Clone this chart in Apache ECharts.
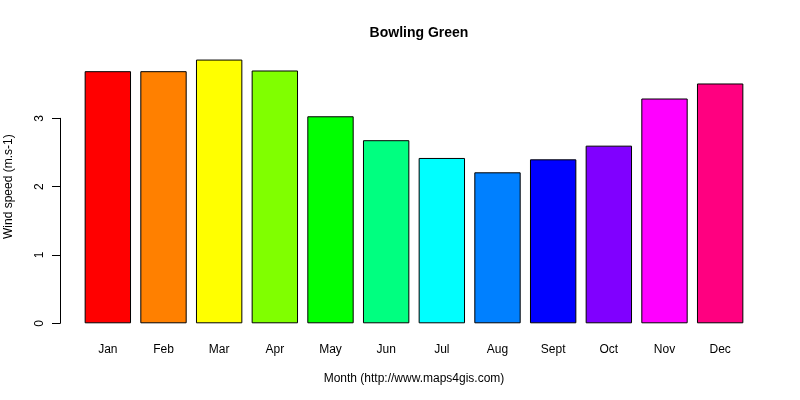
<!DOCTYPE html>
<html>
<head>
<meta charset="utf-8">
<script src="https://cdn.jsdelivr.net/npm/echarts@6/dist/echarts.min.js"></script>
<style>
  html, body { margin: 0; padding: 0; background: #fff; }
  #mainContent { width: 800px; height: 400px; }
</style>
</head>
<body>
<div id="mainContent"></div>
<script>
// data
var months = ['Jan', 'Feb', 'Mar', 'Apr', 'May', 'Jun', 'Jul', 'Aug', 'Sept', 'Oct', 'Nov', 'Dec'];
var windSpeed = [3.69, 3.69, 3.86, 3.70, 3.03, 2.68, 2.42, 2.21, 2.40, 2.60, 3.29, 3.51];
var barColors = ['#FF0000', '#FF8000', '#FFFF00', '#80FF00', '#00FF00', '#00FF80',
                 '#00FFFF', '#0080FF', '#0000FF', '#8000FF', '#FF00FF', '#FF0080'];
var yTicks = [0, 1, 2, 3];

var myChart = echarts.init(document.getElementById('mainContent'));
var font = 'Liberation Sans, Arial, sans-serif';

option = {
    animation: false,
    title: {
        text: 'Bowling Green',
        left: 414,
        top: 21,
        textAlign: 'center',
        textStyle: { fontFamily: font, fontSize: 14, fontWeight: 'bold', color: '#000' }
    },
    grid: [
        { left: 80, right: 52, top: 50, bottom: 76.7, outerBoundsMode: 'none' },
        // second grid only carries the short y axis line (0..3), like R
        { left: 60, right: 52, top: 118.3, bottom: 76.7, outerBoundsMode: 'none' }
    ],
    xAxis: [{
        type: 'category',
        gridIndex: 0,
        data: months,
        axisLine: { show: false },
        axisTick: { show: false },
        axisLabel: { margin: 20, fontFamily: font, fontSize: 12, color: '#000' },
        name: 'Month (http://www.maps4gis.com)',
        nameLocation: 'middle',
        nameGap: 49,
        nameTextStyle: { fontFamily: font, fontSize: 12, color: '#000' }
    }, {
        type: 'category',
        gridIndex: 1,
        show: false
    }],
    yAxis: [{
        type: 'value',
        gridIndex: 0,
        min: 0,
        max: 4,
        axisLine: { show: false },
        axisTick: { show: false },
        axisLabel: { show: false },
        splitLine: { show: false },
        name: 'Wind speed (m.s-1)',
        nameLocation: 'middle',
        nameGap: 65,
        nameRotate: 90,
        nameTextStyle: { fontFamily: font, fontSize: 12, color: '#000' }
    }, {
        type: 'value',
        gridIndex: 1,
        min: yTicks[0],
        max: yTicks[yTicks.length - 1],
        interval: 1,
        axisLine: { show: true, lineStyle: { color: '#000', width: 1 } },
        axisTick: { show: true, length: 8, lineStyle: { color: '#000', width: 1 } },
        axisLabel: { rotate: 90, margin: 14, fontFamily: font, fontSize: 12, color: '#000' },
        splitLine: { show: false }
    }],
    series: [{
        type: 'bar',
        xAxisIndex: 0,
        yAxisIndex: 0,
        barCategoryGap: '16.7%',
        data: windSpeed.map(function (v, i) {
            return { value: v, itemStyle: { color: barColors[i] } };
        }),
        itemStyle: { borderColor: '#000', borderWidth: 1 }
    }]
};

myChart.setOption(option);
</script>
</body>
</html>
